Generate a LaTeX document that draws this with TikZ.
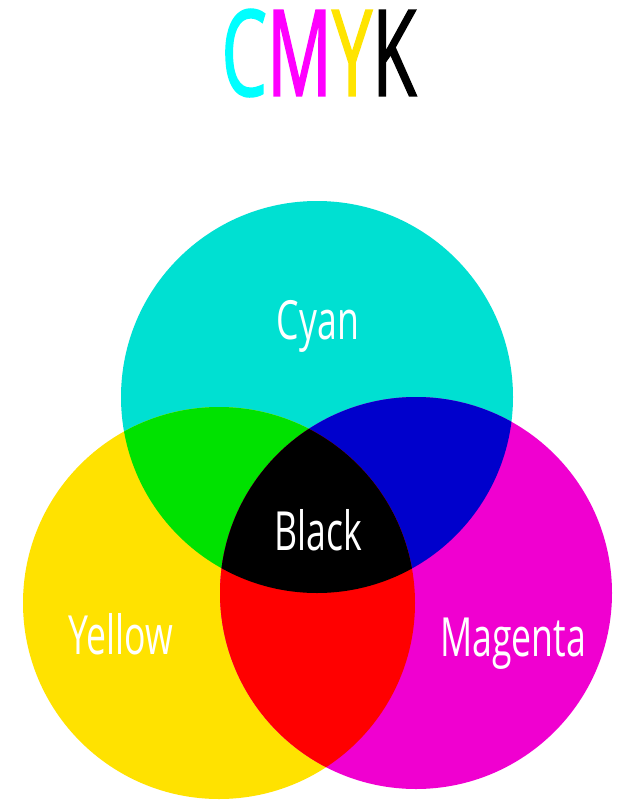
\documentclass[tikz,border=0pt]{standalone}
\usepackage{fontspec}
\setmainfont{Open Sans}
\newfontfamily\labelfont[FakeStretch=0.66]{Open Sans}
\newfontfamily\titlefont[FakeStretch=0.6, FakeBold=1.2]{Open Sans}

\definecolor{cyanC}{RGB}{0,224,210}
\definecolor{yellowC}{RGB}{255,226,0}
\definecolor{magentaC}{RGB}{240,0,208}
\definecolor{greenC}{RGB}{0,226,0}
\definecolor{blueC}{RGB}{0,0,204}
\definecolor{redC}{RGB}{255,0,0}
\definecolor{titleC}{RGB}{0,255,255}
\definecolor{titleM}{RGB}{255,0,255}
\definecolor{titleY}{RGB}{255,228,0}

\begin{document}
\begin{tikzpicture}[x=1pt, y=-1pt,
    lbl/.style={text=white, font=\labelfont\fontsize{54}{54}\selectfont, inner sep=0pt}]
            \useasboundingbox[fill=white] (0, 0) rectangle (641, 811);

            \def\cyanpath{(317, 397) circle (196)}
            \def\yellowpath{(219, 603) circle (196)}
            \def\magentapath{(416, 593) circle (196)}

            \fill[cyanC] \cyanpath;
            \fill[yellowC] \yellowpath;
            \fill[magentaC] \magentapath;

            % overlaps
            \begin{scope}
                \clip \cyanpath;
                \fill[greenC] \yellowpath;
                \fill[blueC] \magentapath;
            \end{scope}
            \begin{scope}
                \clip \yellowpath;
                \fill[redC] \magentapath;
            \end{scope}
            \begin{scope}
                \clip \cyanpath;
                \clip \yellowpath;
                \fill[black] \magentapath;
            \end{scope}

            \node[font=\titlefont\fontsize{120}{120}\selectfont, inner sep=0pt] (title) at (319, 53)
                {\textcolor{titleC}{C}\textcolor{titleM}{M}\textcolor{titleY}{Y}\textcolor{black}{K}};

            \node[lbl] (cyan) at (318, 326) {Cyan};
            \node[lbl] (black) at (318, 530) {Black};
            \node[lbl] (yellow) at (121, 634) {Yellow};
            \node[lbl] (magenta) at (513, 644) {Magenta};
        \end{tikzpicture}
\end{document}
